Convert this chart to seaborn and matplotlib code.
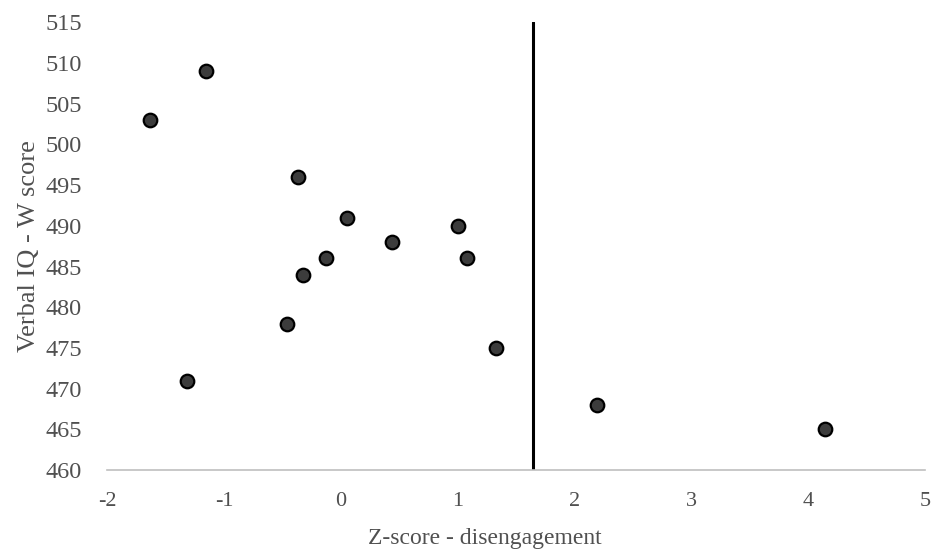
import matplotlib
matplotlib.use('Agg')
import matplotlib.pyplot as plt
import seaborn as sns
import pandas as pd

# values
z_score = [-1.63, -1.15, -1.32, -0.37, 0.05, -0.13, -0.32, -0.46, 0.44, 1.00, 1.08, 1.33, 2.19, 4.14]
verbal_iq = [503, 509, 471, 496, 491, 486, 484, 478, 488, 490, 486, 475, 468, 465]
cutoff = 1.645
x_ticks = [-2, -1, 0, 1, 2, 3, 4, 5]
y_ticks = [460, 465, 470, 475, 480, 485, 490, 495, 500, 505, 510, 515]

df = pd.DataFrame({'z': z_score, 'iq': verbal_iq})

sns.set_style('white')
plt.rcParams['font.family'] = ['Liberation Serif', 'DejaVu Serif']
plt.rcParams['axes.unicode_minus'] = False

fig = plt.figure(figsize=(9.31, 5.55), dpi=100)
ax = fig.add_axes([0.115, 0.153, 0.879, 0.807])

sns.scatterplot(data=df, x='z', y='iq', ax=ax, s=95, color='#3c3c3c',
                edgecolor='black', linewidth=1.6, zorder=3)
ax.axvline(cutoff, ymin=0, ymax=1, color='black', linewidth=2.2, zorder=2)

ax.set_xlim(-2, 5)
ax.set_ylim(460, 515)
ax.set_xticks(x_ticks)
ax.set_yticks(y_ticks)
ax.tick_params(axis='both', length=0, labelcolor='#505050')
ax.tick_params(axis='x', pad=16, labelsize=16)
ax.tick_params(axis='y', pad=18, labelsize=17.5)

for side in ['top', 'right', 'left']:
    ax.spines[side].set_visible(False)
ax.spines['bottom'].set_color('#bfbfbf')
ax.spines['bottom'].set_linewidth(1.2)

ax.set_xlabel('Z-score - disengagement', fontsize=17, color='#505050')
ax.xaxis.set_label_coords(0.462, -0.13)
ax.set_ylabel('Verbal IQ - W score', fontsize=19, color='#505050', labelpad=4)

fig.savefig('out.png', dpi=100)
